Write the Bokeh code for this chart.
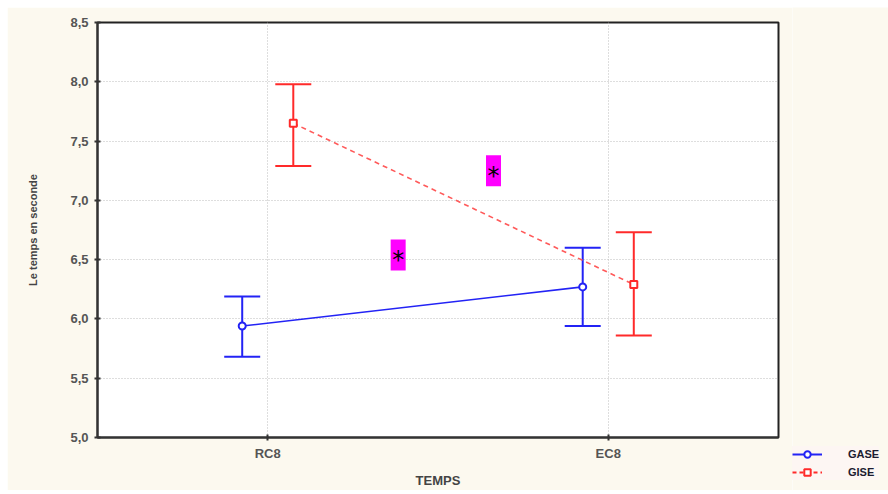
from bokeh.plotting import figure
from bokeh.models import (ColumnDataSource, Range1d, FixedTicker, Whisker, TeeHead,
                          Legend, LegendItem)
from bokeh.layouts import row, column
from bokeh.core.properties import value
from bokeh.embed import file_html
from bokeh.resources import INLINE
import numpy as np

# ---- data ----
categories = ["RC8", "EC8"]
series_names = ["GASE", "GISE"]
gase_mean = [5.94, 6.27]
gase_upper = [6.19, 6.60]
gase_lower = [5.68, 5.94]
gise_mean = [7.65, 6.29]
gise_upper = [7.98, 6.73]
gise_lower = [7.29, 5.86]
y_ticks = [5.0, 5.5, 6.0, 6.5, 7.0, 7.5, 8.0, 8.5]
y_tick_labels = ["5,0", "5,5", "6,0", "6,5", "7,0", "7,5", "8,0", "8,5"]
star_x = [0.383, 0.663]
star_y = [6.54, 7.25]

BG = "#fcf9ef"
BLUE = "#2323f5"
RED = "#ff2a2a"
RED_LINE = "#ff5a5a"
DODGE = 0.075

p = figure(width=785, height=483, output_backend="svg", toolbar_location=None,
           x_range=Range1d(-0.5, 1.5), y_range=Range1d(5.0, 8.5),
           min_border_left=90, min_border_right=14, min_border_top=15,
           min_border_bottom=52)
p.margin = (7, 0, 0, 7)
p.background_fill_color = "white"
p.border_fill_color = BG
p.outline_line_color = "#222222"
p.outline_line_width = 2

idx = np.arange(len(categories))
src_a = ColumnDataSource(dict(x=idx - DODGE, m=gase_mean, u=gase_upper, l=gase_lower))
src_i = ColumnDataSource(dict(x=idx + DODGE, m=gise_mean, u=gise_upper, l=gise_lower))

# grid
p.xgrid.ticker = FixedTicker(ticks=list(idx))
p.ygrid.ticker = FixedTicker(ticks=y_ticks)
for g in (p.xgrid, p.ygrid):
    g.grid_line_color = "#bdbdbd"
    g.grid_line_dash = "1 2"
    g.grid_line_width = 1

# axes
p.xaxis.ticker = FixedTicker(ticks=list(idx))
p.xaxis.major_label_overrides = {int(i): c for i, c in zip(idx, categories)}
p.yaxis.ticker = FixedTicker(ticks=y_ticks)
p.yaxis.major_label_overrides = {t: l for t, l in zip(y_ticks, y_tick_labels)}
for ax in (p.xaxis, p.yaxis):
    ax.axis_line_color = "#333333"
    ax.axis_line_width = 2
    ax.major_tick_line_color = "#333333"
    ax.major_tick_line_width = 2
    ax.major_tick_in = 3
    ax.major_tick_out = 3
    ax.minor_tick_line_color = None
    ax.major_label_text_font = "Liberation Sans"
    ax.major_label_text_font_style = "bold"
    ax.major_label_text_color = "#555555"
    ax.major_label_text_font_size = "13px"
    ax.axis_label_text_font = "Liberation Sans"
    ax.axis_label_text_font_style = "bold"
    ax.axis_label_text_color = "#444444"
p.xaxis.axis_label = "TEMPS"
p.xaxis.axis_label_text_font_size = "13px"
p.xaxis.axis_label_standoff = 9
p.xaxis.major_label_standoff = 5
p.yaxis.axis_label = "Le temps en seconde"
p.yaxis.axis_label_text_font_size = "11px"
p.yaxis.axis_label_standoff = 28
p.yaxis.major_label_standoff = 6

# error bars
for src, col in ((src_a, BLUE), (src_i, RED)):
    w = Whisker(base="x", upper="u", lower="l", source=src, line_color=col, line_width=2,
                upper_head=TeeHead(size=36, line_color=col, line_width=2),
                lower_head=TeeHead(size=36, line_color=col, line_width=2))
    p.add_layout(w)

# lines and markers
p.line("x", "m", source=src_a, line_color=BLUE, line_width=1.6)
p.scatter("x", "m", source=src_a, marker="circle", size=7, fill_color="white",
          line_color=BLUE, line_width=2)
p.line("x", "m", source=src_i, line_color=RED_LINE, line_width=1.6, line_dash="5 4")
p.scatter("x", "m", source=src_i, marker="square", size=7, fill_color="white",
          line_color=RED, line_width=2)

# significance stars
src_s = ColumnDataSource(dict(x=star_x, y=star_y))
p.rect("x", "y", source=src_s, width=15, height=31, width_units="screen",
       height_units="screen", fill_color="#ff00ff", line_color=None)
p.text("x", "y", source=src_s, text=value("*"), text_align="center",
       text_baseline="middle", text_font=value("DejaVu Sans"), text_font_size="24px",
       text_color="black", y_offset=5)

# legend panel (separate narrow figure so the legend may sit below the frame level)
lg = figure(width=96, height=483, output_backend="svg", toolbar_location=None,
            x_range=Range1d(0, 1), y_range=Range1d(0, 1),
            x_axis_location=None, y_axis_location=None,
            min_border_left=0, min_border_right=0, min_border_top=0, min_border_bottom=0)
lg.margin = (7, 0, 0, 0)
lg.grid.visible = False
lg.outline_line_color = None
lg.background_fill_color = BG
lg.border_fill_color = BG
# legend key glyphs: one off-canvas point each so the key symbols are drawn
off = dict(x=[-10.0], y=[-10.0])
ra = [lg.line("x", "y", source=ColumnDataSource(off), line_color=BLUE, line_width=2),
      lg.scatter("x", "y", source=ColumnDataSource(off), marker="circle", size=7,
                 fill_color="white", line_color=BLUE, line_width=2)]
ri = [lg.line("x", "y", source=ColumnDataSource(off), line_color=RED, line_width=2,
              line_dash="4 3"),
      lg.scatter("x", "y", source=ColumnDataSource(off), marker="square", size=7,
                 fill_color="white", line_color=RED, line_width=2)]
legend = Legend(items=[LegendItem(label=series_names[0], renderers=ra),
                       LegendItem(label=series_names[1], renderers=ri)],
                location=(0, 10), orientation="vertical")
legend.background_fill_color = "#fdf6f3"
legend.background_fill_alpha = 1
legend.border_line_color = None
legend.label_text_font = "Liberation Sans"
legend.label_text_font_style = "bold"
legend.label_text_font_size = "11px"
legend.label_text_color = "#1c1c30"
legend.glyph_width = 30
legend.glyph_height = 16
legend.label_standoff = 26
legend.spacing = 2
legend.padding = 4
legend.margin = 0
lg.add_layout(legend, "center")

layout = row(p, column(lg))
open("out.html", "w").write(file_html(layout, INLINE))
